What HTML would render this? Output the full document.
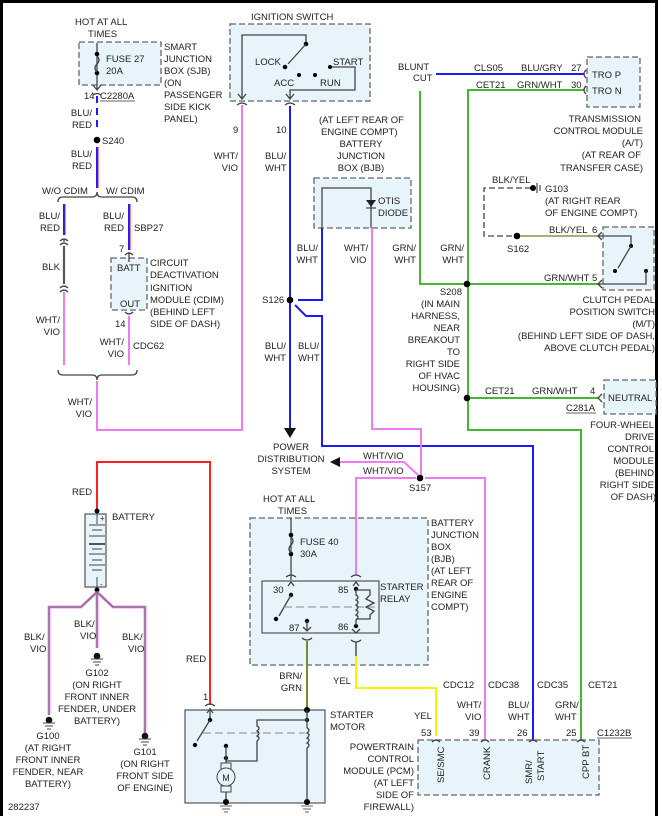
<!DOCTYPE html>
<html><head><meta charset="utf-8"><style>
html,body{margin:0;padding:0;background:#fff}
svg{display:block}
text{font-family:"Liberation Sans",sans-serif;font-size:9.5px;fill:#222}
.b{fill:#e8f4fb;stroke:#666;stroke-width:1.3;stroke-dasharray:6,3}
.s{fill:#e8f4fb;stroke:#555;stroke-width:1.2}
.w{fill:none;stroke-width:2}
.k{fill:none;stroke:#444;stroke-width:1.3}
.pk{stroke:#f07af0}
.bl{stroke:#1a1aff}
.gr{stroke:#44b830}
.e{text-anchor:end}
.m{text-anchor:middle}
</style></head><body>
<svg width="662" height="816" viewBox="0 0 662 816" xmlns="http://www.w3.org/2000/svg">
<rect x="1.5" y="1.5" width="655" height="830" fill="none" stroke="#000" stroke-width="3"/>

<!-- boxes -->
<rect class="b" x="79" y="42" width="82" height="43"/>
<rect class="b" x="230" y="24" width="140" height="77"/>
<rect class="b" x="314" y="178" width="97" height="50"/>
<rect class="b" x="587" y="57" width="53" height="50"/>
<rect class="b" x="603" y="227" width="51" height="63"/>
<rect class="b" x="604" y="380" width="52" height="34"/>
<rect class="b" x="111" y="258" width="36" height="52"/>
<rect class="b" x="250" y="518" width="178" height="147"/>
<rect class="s" x="262" y="581" width="117" height="52"/>
<rect class="s" x="185" y="710" width="140" height="93"/>
<rect class="b" x="418" y="740" width="181" height="55"/>
<rect class="s" x="85" y="514" width="21" height="73"/>

<!-- top-left SJB -->
<text x="75" y="25">HOT AT ALL</text><text x="88" y="37">TIMES</text>
<line class="k" x1="97" y1="43" x2="97" y2="90"/>
<circle cx="97" cy="54" r="2.3"/><circle cx="97" cy="73" r="2.3"/>
<path class="k" d="M97 56 q4 4 0 8 q-4 4 0 8" fill="#e8f4fb"/>
<text x="106" y="62">FUSE 27</text><text x="106" y="74">20A</text>
<text x="164" y="50">SMART</text><text x="164" y="62">JUNCTION</text><text x="164" y="74">BOX (SJB)</text><text x="164" y="86">(ON</text><text x="164" y="98">PASSENGER</text><text x="164" y="110">SIDE KICK</text><text x="164" y="122">PANEL)</text>
<path class="k" d="M93 85 l4 5 l4 -5 M93 95 q4 -3 8 0"/>
<text x="84" y="99">14</text><text x="100" y="99">C2280A</text><line x1="100" y1="101" x2="135" y2="101" stroke="#333" stroke-width=".8"/>
<line class="w bl" x1="97" y1="96" x2="97" y2="132" stroke-dasharray="7,5"/>
<text class="e" x="92" y="116">BLU/</text><text class="e" x="92" y="128">RED</text>
<circle cx="97" cy="140" r="3.3"/><text x="102" y="144">S240</text>
<line class="w bl" x1="97" y1="147" x2="97" y2="188"/><line x1="98.2" y1="147" x2="98.2" y2="188" stroke="#ff3030" stroke-width=".8"/>
<text class="e" x="92" y="157">BLU/</text><text class="e" x="92" y="169">RED</text>
<text x="42" y="194">W/O CDIM</text><text x="106" y="194">W/ CDIM</text>
<path class="k" d="M58 202 q0 -5 5 -5 h29 q5 0 5 -5 q0 5 5 5 h30 q5 0 5 5"/>
<line class="w bl" x1="64" y1="204" x2="64" y2="235"/><line x1="65.2" y1="204" x2="65.2" y2="235" stroke="#ff3030" stroke-width=".8"/>
<text class="e" x="60" y="219">BLU/</text><text class="e" x="60" y="231">RED</text>
<path class="k" d="M60 241 q4 -4 8 0 M60 245 q4 -4 8 0 M64 242 v-2"/>
<line x1="64" y1="246" x2="64" y2="284" stroke="#555" stroke-width="2.2"/>
<text class="e" x="60" y="270">BLK</text>
<path class="k" d="M60 288 q4 -4 8 0 M60 292 q4 -4 8 0"/>
<line class="w pk" x1="64" y1="292" x2="64" y2="365"/>
<text class="e" x="60" y="323">WHT/</text><text class="e" x="60" y="335">VIO</text>
<line class="w bl" x1="129" y1="204" x2="129" y2="250"/><line x1="130.2" y1="204" x2="130.2" y2="250" stroke="#ff3030" stroke-width=".8"/>
<text class="e" x="124" y="219">BLU/</text><text class="e" x="124" y="231">RED</text><text x="134" y="231">SBP27</text>
<text x="119" y="252">7</text>
<path class="k" d="M125 255 q4 -4 8 0 M129 252 v10"/>
<text x="117" y="271">BATT</text><text x="120" y="307">OUT</text>
<text x="150" y="266">CIRCUIT</text><text x="150" y="278">DEACTIVATION</text><text x="150" y="291">IGNITION</text><text x="150" y="303">MODULE (CDIM)</text><text x="150" y="315">(BEHIND LEFT</text><text x="150" y="327">SIDE OF DASH)</text>
<path class="k" d="M125 312 q4 4 8 0"/>
<text x="115" y="327">14</text>
<line class="w pk" x1="129" y1="316" x2="129" y2="365"/>
<text class="e" x="124" y="345">WHT/</text><text class="e" x="124" y="357">VIO</text><text x="133" y="349">CDC62</text>
<path class="k" d="M58 370 q0 5 5 5 h29 q5 0 5 5 q0 -5 5 -5 h30 q5 0 5 -5"/>
<polyline class="w pk" points="97,381 97,430 242,430 242,105"/>
<text class="e" x="92" y="405">WHT/</text><text class="e" x="92" y="417">VIO</text>

<!-- ignition switch -->
<text x="251" y="20">IGNITION SWITCH</text>
<polyline class="k" points="242,98 242,35 306,35 306,44"/>
<circle cx="306" cy="44" r="2.3"/><line class="k" x1="306" y1="44" x2="288" y2="64"/><circle cx="285" cy="67" r="2.3"/>
<text x="255" y="65">LOCK</text><circle cx="299" cy="75" r="2"/><circle cx="315" cy="75" r="2"/><circle cx="330" cy="67" r="2"/>
<text x="333" y="65">START</text><text x="274" y="86">ACC</text><text x="320" y="86">RUN</text>
<polyline class="k" points="290,98 290,90 355,90 355,67 332,67"/>
<path class="k" d="M238 94 l4 5 l4 -5 M286 94 l4 5 l4 -5 M237 105 q5 -4 10 0 M285 105 q5 -4 10 0"/>
<text x="233" y="133">9</text><text x="276" y="133">10</text>
<text class="e" x="238" y="159">WHT/</text><text class="e" x="238" y="171">VIO</text>
<text x="265" y="159">BLU/</text><text x="265" y="171">WHT</text>
<line class="w bl" x1="290" y1="106" x2="290" y2="428"/>
<polygon points="284,428 296,428 290,438" fill="#111"/>
<text x="319" y="123">(AT LEFT REAR OF</text><text x="321" y="135">ENGINE COMPT)</text><text class="m" x="361" y="147">BATTERY</text><text class="m" x="361" y="159">JUNCTION</text><text class="m" x="361" y="171">BOX (BJB)</text>
<polyline class="k" points="322,228 322,188 371,188 371,228"/>
<polygon points="366,200 376,200 371,207" fill="#222"/><line x1="366" y1="208" x2="376" y2="208" stroke="#222"/>
<text x="378" y="204">OTIS</text><text x="378" y="216">DIODE</text>
<polyline class="w bl" points="322,228 322,300 298,300"/>
<polyline class="w bl" points="295,305 306,316 322,316 322,446 533,446 533,740"/>
<circle cx="290" cy="300" r="3.3"/><text x="262" y="303">S126</text>
<text class="e" x="318" y="251">BLU/</text><text class="e" x="318" y="263">WHT</text>
<text class="e" x="286" y="349">BLU/</text><text class="e" x="286" y="361">WHT</text>
<text x="298" y="349">BLU/</text><text x="298" y="361">WHT</text>
<text x="344" y="251">WHT/</text><text x="350" y="263">VIO</text>
<polyline class="w pk" points="372,228 372,429 421,429 421,476"/>
<text class="m" x="291" y="450">POWER</text><text class="m" x="291" y="462">DISTRIBUTION</text><text class="m" x="291" y="474">SYSTEM</text>
<polyline class="w pk" points="418,475 404,462 340,462"/><polygon points="330,462 340,457 340,467" fill="#111"/>
<text x="363" y="459">WHT/VIO</text><text x="363" y="474">WHT/VIO</text>
<polyline class="w pk" points="416,478 356,478 356,575"/>
<polyline class="w" stroke="#ccc" stroke-width="3.5" points="425,478 485,478 485,740"/>
<polyline class="w pk" points="425,478 485,478 485,740"/>
<circle cx="420" cy="478" r="3.3"/><text x="409" y="491">S157</text>

<!-- right top -->
<text x="398" y="70">BLUNT</text><text x="413" y="81">CUT</text>
<line class="w bl" x1="436" y1="74" x2="584" y2="74"/>
<text x="474" y="71">CLS05</text><text x="521" y="71">BLU/GRY</text><text x="571" y="71">27</text>
<text x="476" y="88">CET21</text><text x="517" y="88">GRN/WHT</text><text x="571" y="88">30</text>
<polyline class="w gr" points="420,91 420,284 464,284"/>
<polyline class="w gr" points="584,90 468,90 468,430 581,430 581,740"/>
<path class="k" d="M586 70 q-4 4 0 8 M586 86 q-4 4 0 8"/>
<text x="592" y="78">TRO P</text><text x="592" y="94">TRO N</text>
<text class="e" x="641" y="122">TRANSMISSION</text><text class="e" x="643" y="134">CONTROL MODULE</text><text class="e" x="643" y="146">(A/T)</text><text class="e" x="641" y="158">(AT REAR OF</text><text class="e" x="643" y="171">TRANSFER CASE)</text>
<text x="492" y="183">BLK/YEL</text>
<polyline class="k" points="531,188 484,188 484,236 514,236" stroke-dasharray="6,3" stroke="#666"/>
<circle cx="533" cy="188" r="3"/><line x1="537" y1="183" x2="537" y2="193" stroke="#222"/><line x1="540" y1="185" x2="540" y2="191" stroke="#222"/>
<text x="545" y="192">G103</text><text x="545" y="204">(AT RIGHT REAR</text><text x="545" y="216">OF ENGINE COMPT)</text>
<circle cx="517" cy="236" r="3.3"/><text x="507" y="252">S162</text>
<line x1="520" y1="236" x2="598" y2="236" stroke="#a0a060" stroke-width="1.8"/>
<text x="549" y="233">BLK/YEL</text><text x="592" y="233">6</text>
<text x="544" y="281">GRN/WHT</text><text x="592" y="281">5</text>
<line class="w gr" x1="470" y1="284" x2="598" y2="284"/>
<path class="k" d="M602 232 l-4 4 l4 4 M602 280 l-4 4 l4 4"/>
<polyline class="k" points="598,236 631,236 631,245"/><circle cx="631" cy="246" r="2"/><line class="k" x1="631" y1="246" x2="618" y2="268"/><circle cx="615" cy="271" r="2"/><circle cx="646" cy="271" r="2"/>
<polyline class="k" points="646,271 646,284 598,284"/>
<circle cx="467" cy="284" r="3.3"/>
<text class="e" x="416" y="251">GRN/</text><text class="e" x="416" y="263">WHT</text>
<text class="e" x="464" y="251">GRN/</text><text class="e" x="464" y="263">WHT</text>
<text class="e" x="462" y="295">S208</text><text class="e" x="460" y="307">(IN MAIN</text><text class="e" x="460" y="319">HARNESS,</text><text class="e" x="460" y="331">NEAR</text><text class="e" x="460" y="343">BREAKOUT</text><text class="e" x="460" y="355">TO</text><text class="e" x="460" y="367">RIGHT SIDE</text><text class="e" x="460" y="379">OF HVAC</text><text class="e" x="460" y="391">HOUSING)</text>
<text class="e" x="655" y="303">CLUTCH PEDAL</text><text class="e" x="655" y="315">POSITION SWITCH</text><text class="e" x="655" y="327">(M/T)</text><text class="e" x="655" y="339">(BEHIND LEFT SIDE OF DASH,</text><text class="e" x="655" y="351">ABOVE CLUTCH PEDAL)</text>
<circle cx="467" cy="398" r="3.3"/>
<line class="w gr" x1="470" y1="398" x2="598" y2="398"/>
<text x="485" y="394">CET21</text><text x="532" y="394">GRN/WHT</text><text x="590" y="394">4</text>
<path class="k" d="M602 394 l-4 4 l4 4"/>
<text x="608" y="401">NEUTRAL</text>
<text x="566" y="411">C281A</text><line x1="566" y1="413" x2="596" y2="413" stroke="#333" stroke-width=".8"/>
<text class="e" x="654" y="428">FOUR-WHEEL</text><text class="e" x="654" y="440">DRIVE</text><text class="e" x="654" y="452">CONTROL</text><text class="e" x="654" y="464">MODULE</text><text class="e" x="654" y="476">(BEHIND</text><text class="e" x="654" y="488">RIGHT SIDE</text><text class="e" x="656" y="500">OF DASH)</text>

<!-- battery -->
<polyline class="w" stroke="#ff2020" points="97,510 97,462 210,462 210,705"/>
<text x="72" y="495">RED</text><text x="186" y="662">RED</text>
<circle cx="97" cy="511" r="2.5"/><text x="112" y="520">BATTERY</text><text x="100" y="521" style="font-size:8px">+</text><text x="100" y="587" style="font-size:8px">-</text>
<g stroke="#444" stroke-width="1"><line x1="97" y1="514" x2="97" y2="524"/><line x1="89" y1="525" x2="105" y2="525"/><line x1="92" y1="530" x2="102" y2="530"/><line x1="89" y1="536" x2="105" y2="536"/><line x1="89" y1="544" x2="105" y2="544" stroke-width="1.8"/><line x1="92" y1="549" x2="102" y2="549"/><line x1="89" y1="554" x2="105" y2="554"/><line x1="92" y1="560" x2="102" y2="560"/><line x1="89" y1="565" x2="105" y2="565"/><line x1="92" y1="570" x2="102" y2="570"/><line x1="97" y1="577" x2="97" y2="587"/></g>
<circle cx="97" cy="590" r="2.5"/>
<g fill="none" stroke-width="2.8"><polyline stroke="#f07af0" points="97,592 81,607 49,607 49,715"/><polyline stroke="#f07af0" points="97,592 97,648"/><polyline stroke="#f07af0" points="97,592 113,607 145,607 145,735"/></g>
<g fill="none" stroke="#777" stroke-width="1.3"><polyline points="97,592 81,607 49,607 49,715"/><polyline points="97,592 97,648"/><polyline points="97,592 113,607 145,607 145,735"/></g>
<text x="24" y="640">BLK/</text><text x="30" y="652">VIO</text><text x="74" y="627">BLK/</text><text x="80" y="639">VIO</text><text x="122" y="640">BLK/</text><text x="128" y="652">VIO</text>
<g fill="#111"><circle cx="97" cy="656" r="3.3"/><circle cx="49" cy="720" r="3.3"/><circle cx="145" cy="736" r="3.3"/></g>
<g stroke="#444"><path d="M91 659h12M93 662h8M95 665h4M43 723h12M45 726h8M47 729h4M139 739h12M141 742h8M143 745h4"/></g>
<text class="m" x="97" y="676">G102</text><text class="m" x="97" y="688">(ON RIGHT</text><text class="m" x="97" y="700">FRONT INNER</text><text class="m" x="97" y="712">FENDER, UNDER</text><text class="m" x="97" y="724">BATTERY)</text>
<text class="m" x="48" y="739">G100</text><text class="m" x="48" y="751">(AT RIGHT</text><text class="m" x="48" y="763">FRONT INNER</text><text class="m" x="48" y="775">FENDER, NEAR</text><text class="m" x="48" y="787">BATTERY)</text>
<text class="m" x="145" y="755">G101</text><text class="m" x="145" y="767">(ON RIGHT</text><text class="m" x="145" y="779">FRONT SIDE</text><text class="m" x="145" y="791">OF ENGINE)</text>
<text x="8" y="810">282237</text>

<!-- BJB relay -->
<text x="263" y="502">HOT AT ALL</text><text x="278" y="514">TIMES</text>
<line class="k" x1="291" y1="518" x2="291" y2="580"/>
<circle cx="291" cy="535" r="2.3"/><circle cx="291" cy="554" r="2.3"/><path class="k" d="M291 537 q4 4 0 8 q-4 4 0 8" fill="#e8f4fb"/>
<text x="300" y="545">FUSE 40</text><text x="300" y="557">30A</text>
<path class="k" d="M286 577 q5 -4 10 0 M288 586 l3 -4 l3 4 M351 577 q5 -4 10 0 M353 586 l3 -4 l3 4"/>
<text x="273" y="593">30</text><circle cx="291" cy="595" r="2.2"/><line class="k" x1="291" y1="595" x2="279" y2="616"/><circle cx="276" cy="619" r="2.2"/>
<line x1="284" y1="607" x2="375" y2="607" stroke="#888" stroke-dasharray="8,4"/>
<circle cx="307" cy="621" r="2.2"/><text x="289" y="631">87</text><path class="k" d="M307 621 v9 M303 627 l4 4 l4 -4"/>
<text x="338" y="593">85</text><text x="338" y="630">86</text>
<circle cx="356" cy="589" r="2.2"/><circle cx="356" cy="626" r="2.2"/>
<path class="k" d="M356 589 v6 q4 2 0 5 q4 2 0 5 q4 2 0 5 q4 2 0 5 q4 2 0 5 v6 M356 590 h14 v5 l-4 4 l8 4 l-8 4 l8 4 l-4 4 v4 h-14"/>
<text x="380" y="590">STARTER</text><text x="380" y="602">RELAY</text>
<path class="k" d="M352 629 l4 4 l4 -4 M351 640 q5 4 10 0 M302 638 q5 4 10 0"/>
<text x="431" y="526">BATTERY</text><text x="431" y="538">JUNCTION</text><text x="431" y="550">BOX</text><text x="431" y="562">(BJB)</text><text x="431" y="574">(AT LEFT</text><text x="431" y="586">REAR OF</text><text x="431" y="598">ENGINE</text><text x="431" y="610">COMPT)</text>
<line x1="356" y1="642" x2="356" y2="656" stroke="#444" stroke-width="1.4"/>
<polyline class="w" stroke="#f5f500" stroke-width="2.5" points="356,656 356,688 436,688 436,736"/>
<line x1="307" y1="641" x2="307" y2="710" stroke="#7a8a30" stroke-width="2"/>
<text class="e" x="302" y="679">BRN/</text><text class="e" x="302" y="691">GRN</text><text x="333" y="684">YEL</text>
<text x="443" y="688">CDC12</text><text x="488" y="688">CDC38</text><text x="537" y="688">CDC35</text><text x="588" y="688">CET21</text>
<text x="414" y="719">YEL</text><text x="457" y="708">WHT/</text><text x="465" y="720">VIO</text><text x="508" y="708">BLU/</text><text x="508" y="720">WHT</text><text x="555" y="708">GRN/</text><text x="555" y="720">WHT</text>
<text x="421" y="736">53</text><text x="469" y="736">39</text><text x="517" y="736">26</text><text x="566" y="736">25</text>
<text x="597" y="736">C1232B</text><line x1="597" y1="738" x2="632" y2="738" stroke="#333" stroke-width=".8"/>
<path class="k" d="M432 742 q4 -4 8 0 M481 742 q4 -4 8 0 M529 742 q4 -4 8 0 M577 742 q4 -4 8 0"/>
<text x="444" y="783" transform="rotate(-90 444 783)">SE/SMC</text>
<text x="490" y="780" transform="rotate(-90 490 780)">CRANK</text>
<text x="532" y="784" transform="rotate(-90 532 784)">SMR/</text><text x="544" y="781" transform="rotate(-90 544 781)">START</text>
<text x="589" y="779" transform="rotate(-90 589 779)">CPP BT</text>
<text class="e" x="414" y="750">POWERTRAIN</text><text class="e" x="414" y="762">CONTROL</text><text class="e" x="414" y="774">MODULE (PCM)</text><text class="e" x="414" y="786">(AT LEFT</text><text class="e" x="414" y="798">SIDE OF</text><text class="e" x="414" y="810">FIREWALL)</text>

<!-- starter motor -->
<text x="203" y="700">1</text><path class="k" d="M205 706 q5 -4 10 0 M207 713 l3 -4 l3 4"/>
<line class="k" x1="210" y1="708" x2="210" y2="720"/><circle cx="210" cy="720" r="2.2"/><line class="k" x1="210" y1="720" x2="197" y2="741"/><circle cx="195" cy="745" r="2.2"/>
<line x1="203" y1="733" x2="305" y2="733" stroke="#888" stroke-dasharray="8,4"/>
<circle cx="307" cy="710" r="3"/><circle cx="307" cy="720" r="2.2"/>
<polyline class="k" points="307,710 307,728 M307,720 257,720"/>
<path class="k" d="M307 728 q4 2 0 5 q4 2 0 5 q4 2 0 5 q4 2 0 5 v51"/>
<path class="k" d="M307 720 H257 v6 q4 2 0 5 q4 2 0 5 q4 2 0 5 v20 h-31"/>
<circle cx="226" cy="746" r="2.2"/><circle cx="226" cy="758" r="2.2"/><line class="k" x1="226" y1="746" x2="226" y2="770"/>
<rect x="221" y="763" width="10" height="6" fill="#e8f4fb" stroke="#444"/>
<circle cx="226" cy="777" r="9" fill="#e8f4fb" stroke="#444"/><text class="m" x="226" y="781" style="font-size:9px">M</text>
<rect x="221" y="786" width="10" height="6" fill="#e8f4fb" stroke="#444"/><line class="k" x1="226" y1="792" x2="226" y2="800"/>
<circle cx="226" cy="802" r="3"/><circle cx="307" cy="802" r="3"/>
<g stroke="#666"><path d="M220 806h12M222 809h8M224 812h4M301 806h12M303 809h8M305 812h4"/></g>
<text x="330" y="718">STARTER</text><text x="330" y="730">MOTOR</text>
</svg>
</body></html>
